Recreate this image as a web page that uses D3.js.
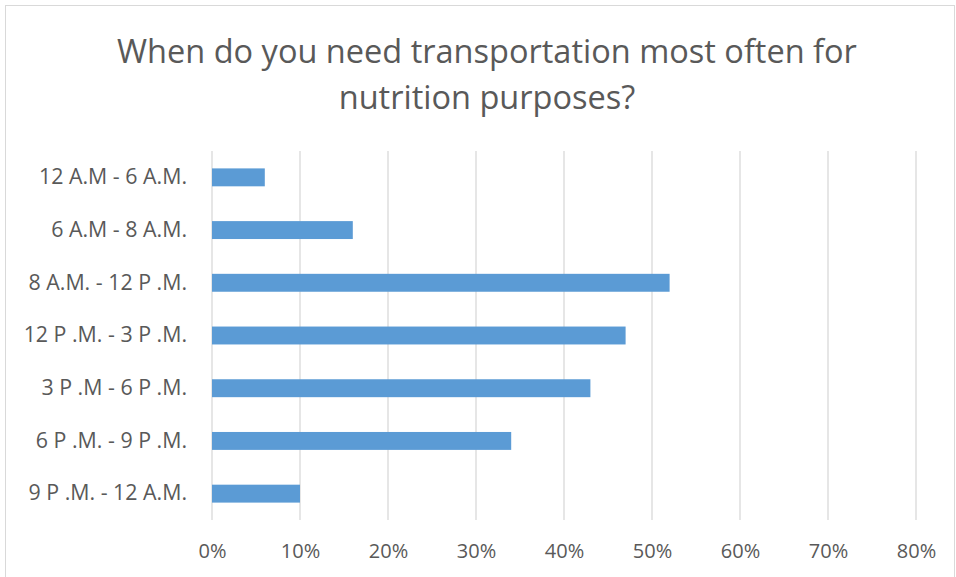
<!DOCTYPE html>
<html><head><meta charset="utf-8">
<script src="https://cdn.jsdelivr.net/npm/d3@7"></script>
<style>body{margin:0;background:#fff}svg{display:block}</style>
</head><body>
<svg id="chart" width="956" height="577"></svg>
<script>
const categories = ["12 A.M - 6 A.M.", "6 A.M - 8 A.M.", "8 A.M. - 12 P .M.", "12 P .M. - 3 P .M.", "3 P .M - 6 P .M.", "6 P .M. - 9 P .M.", "9 P .M. - 12 A.M."];
const values = [0.06, 0.16, 0.52, 0.47, 0.43, 0.34, 0.10];
const tickValues = [0, 0.1, 0.2, 0.3, 0.4, 0.5, 0.6, 0.7, 0.8];
const titleLines = ["When do you need transportation most often for", "nutrition purposes?"];

const svg = d3.select("#chart");
const W = 956, H = 577;
const m = {left: 212, right: 40, top: 151, bottom: 57};
const textColor = "#595959";
const font = "'Open Sans', 'Noto Sans', sans-serif";

svg.append("rect").attr("x", 5.5).attr("y", 5.5).attr("width", 949).attr("height", 600)
  .attr("fill", "#fff").attr("stroke", "#d9d9d9").attr("stroke-width", 1);

const x = d3.scaleLinear().domain([0, 0.8]).range([m.left, W - m.right]);
const y = d3.scaleBand().domain(categories).range([m.top, H - m.bottom]).paddingInner(0.66).paddingOuter(0.33);

// gridlines
svg.append("g").selectAll("line").data(tickValues).join("line")
  .attr("x1", d => x(d)).attr("x2", d => x(d))
  .attr("y1", m.top).attr("y2", H - m.bottom)
  .attr("stroke", "#d9d9d9").attr("stroke-width", 1.3);

// bars
svg.append("g").selectAll("rect").data(values).join("rect")
  .attr("x", x(0)).attr("y", (d, i) => y(categories[i]))
  .attr("width", d => x(d) - x(0)).attr("height", y.bandwidth())
  .attr("fill", "#5b9bd5");

// x axis
const xAxis = d3.axisBottom(x).tickValues(tickValues).tickFormat(d3.format(".0%")).tickSize(0).tickPadding(0);
const gx = svg.append("g").attr("transform", `translate(0,558)`).call(xAxis);
gx.select(".domain").remove();
gx.selectAll("text").attr("fill", textColor).style("font-family", font).style("font-size", "16px").attr("dy", "0");
{
  const n = gx.select("text").node();
  const fs = 16 * 28 / n.getComputedTextLength();
  gx.selectAll("text").style("font-size", fs + "px");
}

// y axis
const yAxis = d3.axisLeft(y).tickSize(0).tickPadding(25);
const gy = svg.append("g").attr("transform", `translate(${m.left},0)`).call(yAxis);
gy.select(".domain").remove();
gy.selectAll("text").attr("fill", textColor).style("font-family", font).style("font-size", "16px");
{
  const n = gy.select("text").node();
  const fs = 16 * 148 / n.getComputedTextLength();
  gy.selectAll("text").style("font-size", fs + "px");
}

// title
const t = svg.append("g");
titleLines.forEach((s, i) => {
  t.append("text").attr("x", 487).attr("y", 63 + i * 46).attr("text-anchor", "middle")
    .attr("fill", textColor).style("font-family", font).style("font-size", "28px").style("font-weight", 400).text(s);
});
{
  const n = t.select("text").node();
  const fs = 28 * 740 / n.getComputedTextLength();
  t.selectAll("text").style("font-size", fs + "px");
}
</script>
</body></html>
